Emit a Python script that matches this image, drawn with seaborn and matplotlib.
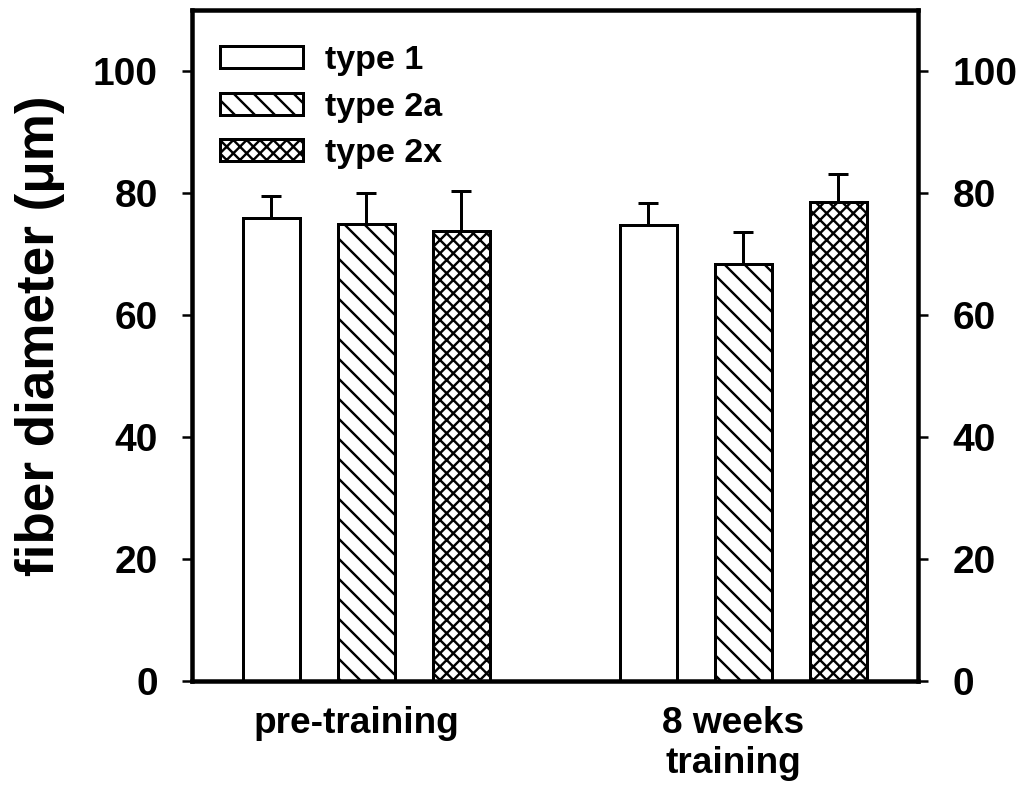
import numpy as np
import pandas as pd
import matplotlib
matplotlib.use("Agg")
import matplotlib.pyplot as plt
import matplotlib.transforms as mtransforms
import seaborn as sns

# Fiber diameter (µm) by fiber type, before and after 8 weeks of training
conditions = ["pre-training", "8 weeks\ntraining"]
fiber_types = ["type 1", "type 2a", "type 2x"]
means_pre = [76.0, 74.9, 73.8]
means_post = [74.8, 68.3, 78.5]
sem_pre = [3.6, 5.1, 6.6]
sem_post = [3.6, 5.3, 4.7]
y_ticks = [0, 20, 40, 60, 80, 100]
hatches = ["", "\\\\", "xxx"]

df = pd.DataFrame({
    "condition": [conditions[0]] * 3 + [conditions[1]] * 3,
    "fiber": fiber_types * 2,
    "diameter": means_pre + means_post,
    "sem": sem_pre + sem_post,
})

DPI = 120

def px(v):
    return v * 72.0 / DPI

sns.set_theme(style="ticks")
plt.rcParams["font.family"] = ["Liberation Sans", "DejaVu Sans"]
plt.rcParams["font.weight"] = "bold"
plt.rcParams["hatch.linewidth"] = px(2.4)
plt.rcParams["hatch.color"] = "black"
for key in ["text.color", "axes.labelcolor", "xtick.color", "ytick.color",
            "xtick.labelcolor", "ytick.labelcolor"]:
    plt.rcParams[key] = "black"

fig = plt.figure(figsize=(1026 / DPI, 785 / DPI), dpi=DPI)
ax = fig.add_axes([0.187, 0.1325, 0.708, 0.8545])

sns.barplot(data=df, x="condition", y="diameter", hue="fiber",
            order=conditions, hue_order=fiber_types,
            palette=["white"] * 3, edgecolor="black", linewidth=px(3),
            errorbar=None, width=0.756, gap=0.4, legend=False, ax=ax)

# hatch each series and add one-sided (upward) error bars
for container, hatch, ftype in zip(ax.containers, hatches, fiber_types):
    sub = df[df["fiber"] == ftype].set_index("condition").loc[conditions]
    xs, ys = [], []
    for bar in container:
        bar.set_hatch(hatch)
        xs.append(bar.get_x() + bar.get_width() / 2)
        ys.append(bar.get_height())
    errs = sub["sem"].to_numpy()
    ax.errorbar(xs, ys, yerr=[np.zeros_like(errs), errs], fmt="none",
                ecolor="black", elinewidth=px(3), capsize=px(10),
                capthick=px(3), zorder=1)

ax.set_ylim(0, 110)
ax.set_xlim(-0.462, 1.464)
ax.set_yticks(y_ticks)
ax.set_yticklabels([str(t) for t in y_ticks])
ax.set_xlabel("")
ax.set_ylabel("fiber diameter (\u03bcm)", fontsize=px(53), fontweight="bold")
ax.yaxis.set_label_coords(-0.175, 0.515)

for side in ["left", "right", "top", "bottom"]:
    ax.spines[side].set_visible(True)
    ax.spines[side].set_linewidth(px(4.5))
    ax.spines[side].set_color("black")

ax.tick_params(axis="y", which="both", direction="out", length=px(10),
               width=px(2.5), color="black", labelsize=px(39),
               left=True, right=True, labelleft=True, labelright=True)
ax.tick_params(axis="y", pad=px(24))
ax.tick_params(axis="x", length=0, labelsize=px(37), pad=px(25))
shift = mtransforms.ScaledTranslation(-10 / DPI, 0, fig.dpi_scale_trans)
for lab in ax.get_xticklabels():
    lab.set_fontweight("bold")
    lab.set_transform(lab.get_transform() + shift)
for t in ax.yaxis.get_major_ticks():
    t.label1.set_fontweight("bold")
    t.label2.set_fontweight("bold")
    t.label2.set_fontsize(px(39))

leg = ax.legend(ax.containers, fiber_types, loc="upper left",
                bbox_to_anchor=(0.02, 0.968), frameon=False,
                fontsize=px(34), handlelength=2.45, handleheight=0.62,
                handletextpad=0.65, labelspacing=0.45, borderaxespad=0)
for t in leg.get_texts():
    t.set_fontweight("bold")
for h in leg.legend_handles:
    h.set_linewidth(px(3))

fig.savefig("out.png", dpi=DPI, facecolor="white")
